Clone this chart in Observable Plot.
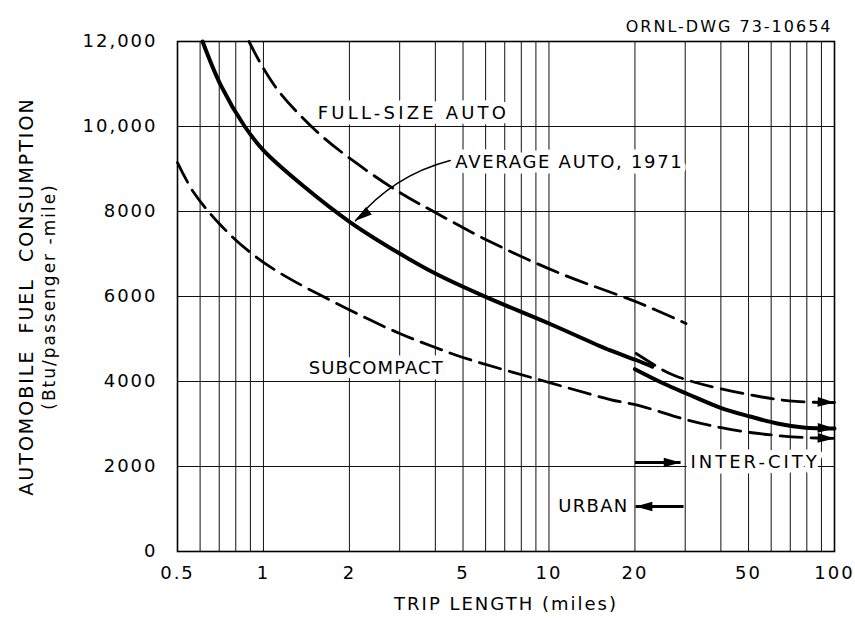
<!DOCTYPE html>
<html><head><meta charset="utf-8">
<script src="https://cdn.jsdelivr.net/npm/d3@7"></script>
<script src="https://cdn.jsdelivr.net/npm/@observablehq/plot@0.6"></script>
<style>body{margin:0;background:#fff}</style>
</head><body><div id="chart"></div>
<script>
// ---- axis ticks / grid ----
const xTicks = [0.5, 1, 2, 5, 10, 20, 50, 100];
const xTickLabels = ["0.5", "1", "2", "5", "10", "20", "50", "100"];
const yTicks = [0, 2000, 4000, 6000, 8000, 10000, 12000];
const yTickLabels = ["0", "2000", "4000", "6000", "8000", "10,000", "12,000"];
const xGrid = [0.6, 0.7, 0.8, 0.9, 1, 2, 3, 4, 5, 6, 7, 8, 9, 10, 20, 30, 40, 50, 60, 70, 80, 90];
const yGrid = [2000, 4000, 6000, 8000, 10000];

// ---- series (trip length in miles, Btu/passenger-mile) ----
const avgUrbanX = [0.612, 0.71, 0.86, 1.0, 1.38, 2.02, 3.0, 4.0, 6.0, 10, 16.4, 20.4, 23];
const avgUrbanY = [12000, 10960, 10000, 9440, 8600, 7740, 7010, 6540, 5990, 5365, 4730, 4494, 4350];
const avgInterX = [20, 25.2, 30.3, 39.7, 50.6, 63, 77.8, 100];
const avgInterY = [4290, 3953, 3718, 3388, 3176, 3012, 2918, 2894];
const fullUrbanX = [0.89, 1.0, 1.148, 1.55, 2.1, 3.0, 4.0, 6.1, 10.95, 20.5, 30.2];
const fullUrbanY = [12000, 11365, 10776, 9859, 9153, 8447, 7976, 7318, 6541, 5859, 5365];
const fullInterX = [20.2, 25.2, 27.5, 32.6, 39.7, 54.5, 73.3, 100];
const fullInterY = [4660, 4260, 4141, 3976, 3835, 3647, 3530, 3506];
const subX = [0.5, 0.57, 0.71, 0.9, 1.15, 2.02, 3.0, 4.0, 5.0, 10, 16.4, 21, 30.3, 39.7, 50.6, 63, 77.8, 100];
const subY = [9150, 8447, 7671, 7035, 6541, 5671, 5130, 4800, 4565, 3977, 3576, 3420, 3100, 2918, 2800, 2729, 2682, 2659];

// ---- annotations ----
const labelText = ["FULL-SIZE AUTO", "AVERAGE AUTO, 1971", "SUBCOMPACT", "INTER-CITY"];
const labelX = [1.55, 4.7, 1.44, 31.3];
const labelY = [10306, 9153, 4306, 2094];
const urbanText = ["URBAN"];
const urbanX = [19.0];
const urbanY = [1059];
const leaderFrom = [4.51, 9200];
const leaderTo = [2.1, 7780];
const interArrow = [20, 28.9, 2094];   // x1, x2(tip), y
const urbanArrow = [29.6, 20.1, 1059]; // x1, x2(tip), y
const drawingId = ["ORNL-DWG 73-10654"];
const yLabel1 = ["AUTOMOBILE  FUEL  CONSUMPTION"];
const yLabel2 = ["(Btu/passenger -mile)"];
const xLabel = ["TRIP LENGTH (miles)"];
// letter spacing (px) per label text
const spacingText = ["FULL-SIZE AUTO", "AVERAGE AUTO, 1971", "SUBCOMPACT", "INTER-CITY", "URBAN"];
const spacingPx = [3.2, 1.7, 1.1, 3.0, 1.3];

const rows = (xs, ys) => xs.map((x, i) => ({x, y: ys[i]}));
const endRow = (xs, ys) => [{x: xs[xs.length - 1], y: ys[ys.length - 1]}];

const arrowHead = {
  draw(ctx, size) {
    const k = Math.sqrt(size / Math.PI);
    ctx.moveTo(0, 0);
    ctx.lineTo(-2.1 * k, -0.6 * k);
    ctx.lineTo(-2.1 * k, 0.6 * k);
    ctx.closePath();
  }
};

const labels = labelText.map((t, i) => ({t, x: labelX[i], y: labelY[i]}));
const urbanLab = urbanText.map((t, i) => ({t, x: urbanX[i], y: urbanY[i]}));
const xTickRows = xTicks.map((x, i) => ({x, t: xTickLabels[i]}));
const yTickRows = yTicks.map((y, i) => ({y, t: yTickLabels[i]}));

const dash = "22,9";
const chart = Plot.plot({
  width: 855,
  height: 621,
  marginLeft: 177,
  marginRight: 21,
  marginTop: 41,
  marginBottom: 70,
  style: {fontFamily: "DejaVu Sans", color: "black", background: "white", letterSpacing: "2px"},
  x: {type: "log", domain: [0.5, 100], axis: null},
  y: {domain: [0, 12000], axis: null},
  marks: [
    Plot.ruleX(xGrid, {y1: 0, y2: 12000, stroke: "#111", strokeWidth: 1}),
    Plot.ruleY(yGrid, {x1: 0.5, x2: 100, stroke: "#111", strokeWidth: 1}),
    Plot.frame({stroke: "black", strokeWidth: 1.6}),
    Plot.text(xTickRows, {x: "x", text: "t", frameAnchor: "bottom", dy: 27, fontSize: 18}),
    Plot.text(yTickRows, {y: "y", text: "t", frameAnchor: "left", textAnchor: "end", dx: -20, fontSize: 18}),
    Plot.text(labels, {x: "x", y: "y", text: "t", textAnchor: "start", fontSize: 18, fill: "black", stroke: "white", strokeWidth: 11}),
    Plot.text(urbanLab, {x: "x", y: "y", text: "t", textAnchor: "end", fontSize: 18, fill: "black", stroke: "white", strokeWidth: 11}),
    Plot.text(drawingId, {frameAnchor: "top-right", textAnchor: "end", dy: -21, dx: -2, fontSize: 16}),
    Plot.text(yLabel1, {frameAnchor: "left", textAnchor: "middle", rotate: -90, dx: -151, fontSize: 19}),
    Plot.text(yLabel2, {frameAnchor: "left", textAnchor: "middle", rotate: -90, dx: -128, fontSize: 17}),
    Plot.text(xLabel, {frameAnchor: "bottom", textAnchor: "middle", dy: 58, fontSize: 18}),
    // curves
    Plot.line(rows(avgUrbanX, avgUrbanY), {x: "x", y: "y", curve: "catmull-rom", stroke: "black", strokeWidth: 4}),
    Plot.line(rows(avgInterX, avgInterY), {x: "x", y: "y", curve: "catmull-rom", stroke: "black", strokeWidth: 4}),
    Plot.line(rows(fullUrbanX, fullUrbanY), {x: "x", y: "y", curve: "catmull-rom", stroke: "black", strokeWidth: 2.8, strokeDasharray: dash}),
    Plot.line(rows(fullInterX, fullInterY), {x: "x", y: "y", curve: "catmull-rom", stroke: "black", strokeWidth: 2.8, strokeDasharray: dash}),
    Plot.line(rows(subX, subY), {x: "x", y: "y", curve: "catmull-rom", stroke: "black", strokeWidth: 2.8, strokeDasharray: dash}),
    // arrowheads at 100 miles
    Plot.dot([...endRow(avgInterX, avgInterY), ...endRow(fullInterX, fullInterY), ...endRow(subX, subY)],
      {x: "x", y: "y", symbol: arrowHead, r: 8, fill: "black", stroke: "none", rotate: 2}),
    // leader arrow
    Plot.arrow([0], {x1: leaderFrom[0], y1: leaderFrom[1], x2: leaderTo[0], y2: leaderTo[1], bend: -18, headLength: 0, stroke: "black", strokeWidth: 1.5}),
    Plot.dot([{x: leaderTo[0], y: leaderTo[1]}], {x: "x", y: "y", symbol: arrowHead, r: 8, fill: "black", stroke: "none", rotate: 143}),
    // inter-city / urban arrows
    Plot.link([0], {x1: interArrow[0], x2: interArrow[1], y1: interArrow[2], y2: interArrow[2], stroke: "black", strokeWidth: 3}),
    Plot.dot([{x: interArrow[1], y: interArrow[2]}], {x: "x", y: "y", symbol: arrowHead, r: 8, fill: "black", stroke: "none", rotate: 0}),
    Plot.link([0], {x1: urbanArrow[0], x2: urbanArrow[1], y1: urbanArrow[2], y2: urbanArrow[2], stroke: "black", strokeWidth: 3}),
    Plot.dot([{x: urbanArrow[1], y: urbanArrow[2]}], {x: "x", y: "y", symbol: arrowHead, r: 8, fill: "black", stroke: "none", rotate: 180})
  ]
});
d3.select(chart).selectAll("text").each(function () {
  const i = spacingText.indexOf(this.textContent);
  if (i >= 0) this.style.letterSpacing = spacingPx[i] + "px";
});
document.getElementById("chart").appendChild(chart);
</script>
</body></html>
